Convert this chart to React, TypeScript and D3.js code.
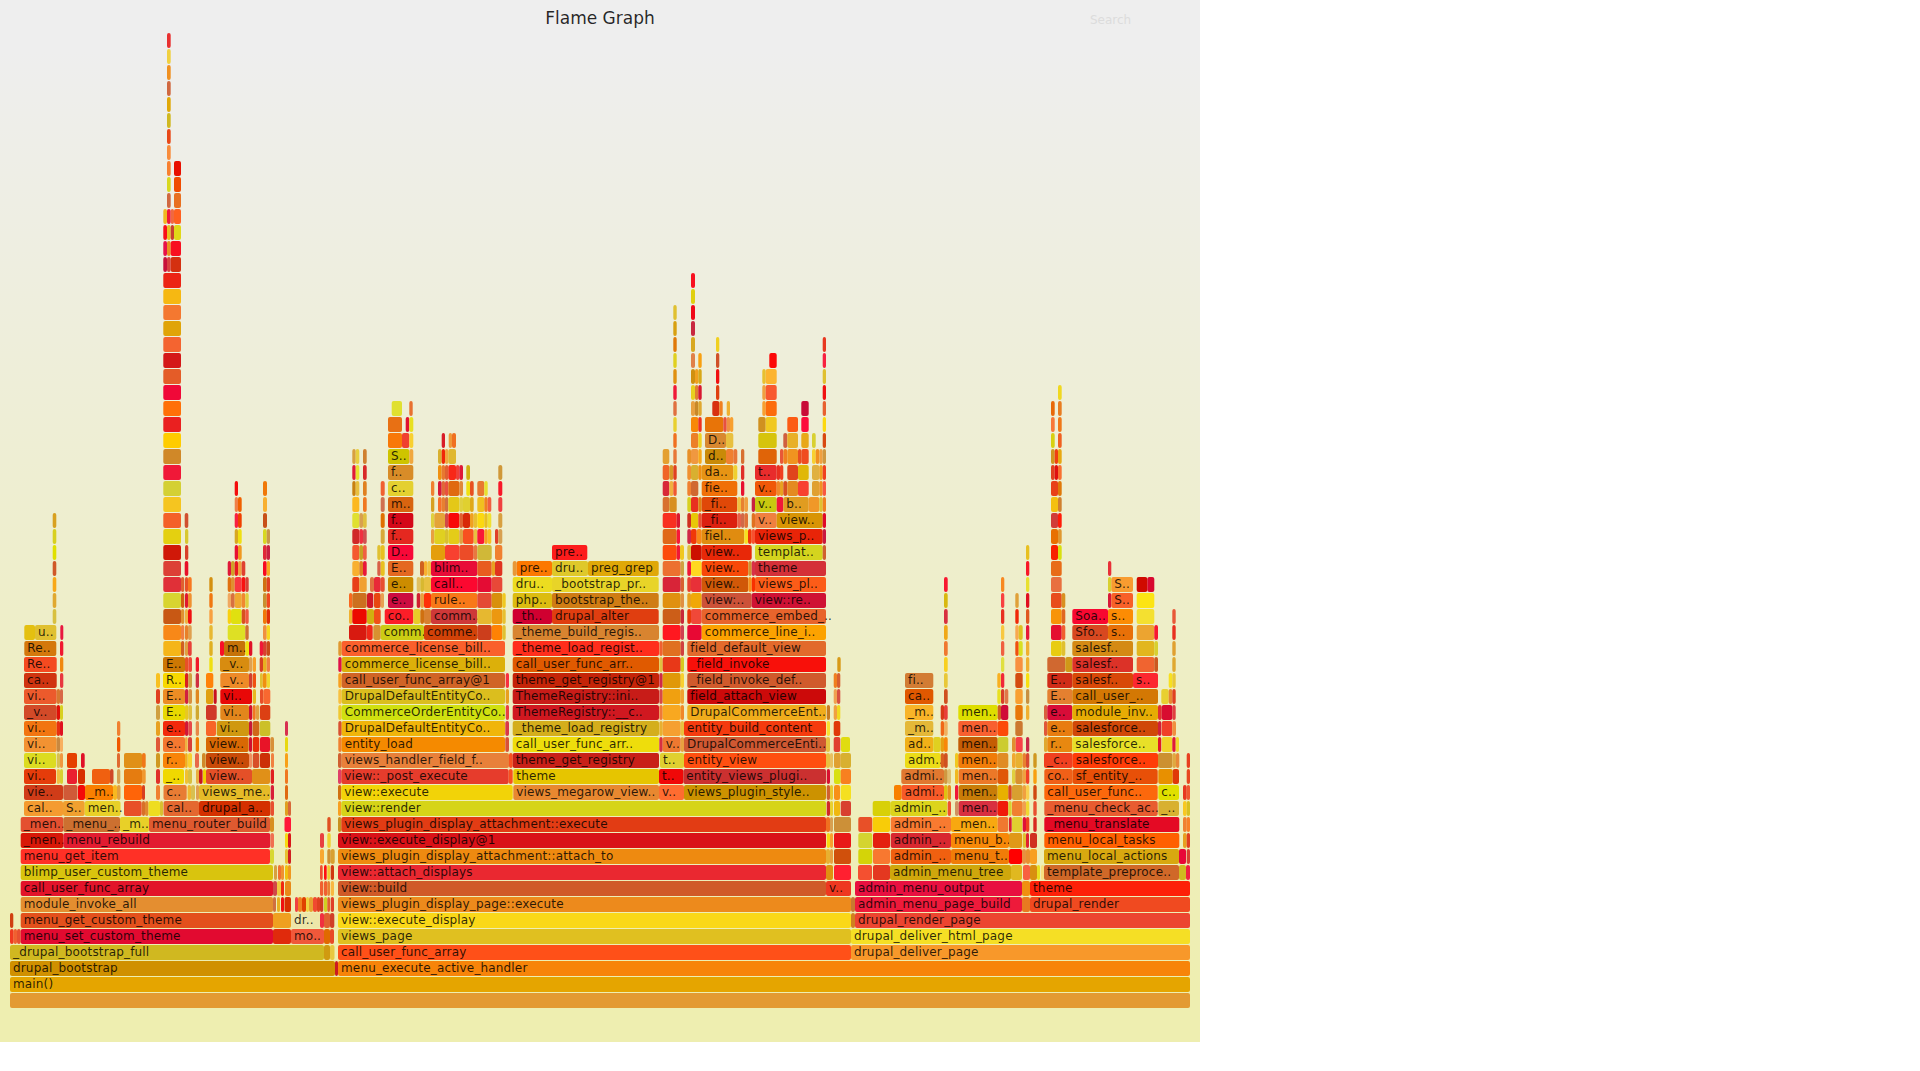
import * as d3 from "d3";
import React, { useEffect, useRef } from "react";

type Frame = [number, number, string?];

const chartTitle = "Flame Graph";
const searchLabel = "Search";
const totalSamples = 1180;

// one row per stack depth, [first sample, last sample, label]
const stackFrames: Frame[][] = [
  [[0,1180]],
  [[0,1180,"main()"]],
  [[0,325,"drupal_bootstrap"],[325,328],[328,1180,"menu_execute_active_handler"]],
  [[0,314,"_drupal_bootstrap_full"],[314,320],[320,324.5],[328,841,"call_user_func_array"],[841,1180,"drupal_deliver_page"]],
  [[0,3.7],[3.7,7],[7,10.7],[10.7,263,"menu_set_custom_theme"],[263,281],[281,314,"mo.."],[314,320],[320,324],[328,841,"views_page"],[841,1180,"drupal_deliver_html_page"]],
  [[0,3.3],[10.7,263,"menu_get_custom_theme"],[263,281],[281,310,"dr.."],[310,314],[314,320],[320,324.3],[328,841,"view::execute_display"],[841,845],[845,1180,"drupal_render_page"]],
  [[10.7,263,"module_invoke_all"],[263,266],[267,270],[271,274],[274.5,281],[285,288],[288,292],[292,296],[296,299],[299,303],[303,307],[307,310],[310,313.3],[314,317.3],[317.3,320],[320.7,324],[328,841,"views_plugin_display_page::execute"],[841,845],[845,1012,"admin_menu_page_build"],[1012,1020],[1020,1180,"drupal_render"]],
  [[10.7,263,"call_user_func_array"],[263,267],[267,271],[271,274],[275,281],[310,313.3],[314,317.3],[317.3,320],[320.7,324],[328,816,"view::build"],[816,841,"v.."],[845,1012,"admin_menu_output"],[1012,1020],[1020,1180,"theme"]],
  [[10.7,263,"blimp_user_custom_theme"],[264,267],[268,271],[271,274],[275,278],[278,281],[310,312.7],[314,316.7],[317.3,320],[320.7,324],[328,816,"view::attach_displays"],[816,823],[824,841],[848,862],[863,880],[880,1001,"admin_menu_tree"],[1001,1012],[1013,1020],[1020,1027],[1027,1030],[1031,1034],[1034,1169,"template_preproce.."],[1169,1176],[1176,1180]],
  [[10.7,260,"menu_get_item"],[260,264],[275,278],[278,281],[310,314],[317.3,320.7],[320.7,324.7],[328,816,"views_plugin_display_attachment::attach_to"],[816,820],[820,823],[824,841],[848.3,862.3],[863,880],[880.7,941,"admin_.."],[941,999,"menu_t.."],[999,1012],[1012,1016],[1016,1020],[1020,1027],[1034,1169,"menu_local_actions"],[1169,1176],[1176.7,1180]],
  [[10.7,53.3,"_men.."],[53.3,260.3,"menu_rebuild"],[260.5,264],[275,278],[278,281],[310,314],[317.3,320.7],[328,816,"view::execute_display@1"],[816.7,820],[820,823],[824,841],[848.3,862.3],[863,880],[880.7,941,"admin_.."],[941,999,"menu_b.."],[999,1012],[1012.7,1016],[1016,1019],[1020,1027],[1034.3,1169.3,"menu_local_tasks"],[1173,1176.7],[1176.7,1180]],
  [[10.7,53.3,"_men.."],[53.3,110,"_menu_.."],[110,139,"_m.."],[139,260,"menu_router_build"],[260,264],[274.5,281],[317.3,320.7],[328,331.3],[331.3,816,"views_plugin_display_attachment::execute"],[816,820],[820,823],[824,841],[848.3,862.3],[862.7,880],[880.7,941,"admin_.."],[941,987.7,"_men.."],[987.7,998.3],[999,1001.7],[1002,1012.3],[1012.7,1016],[1016,1019.3],[1023.3,1026.7],[1034.3,1169.3,"_menu_translate"],[1173,1176.7],[1176.7,1180]],
  [[14,53,"cal.."],[53,74.7,"S.."],[74.7,110.5,"men.."],[114,131.7],[132,135],[135,138.5],[138.5,150],[150,153],[153.5,189,"cal.."],[189,260.5,"drupal_a.."],[260.7,264],[275,278],[278,281],[328,331.3],[331.3,816,"view::render"],[816.7,820],[820,823],[824,830],[830.7,841],[862.7,880.7],[880.7,937.3,"admin_.."],[937.7,941],[945,948.7],[948.7,987.7,"men.."],[987.7,998.3],[998.3,1001.7],[1002,1012.7],[1012.7,1016],[1016,1019.3],[1023.3,1026.7],[1034.3,1147.7,"_menu_check_ac.."],[1148.3,1169,"_.."],[1173,1176.7],[1176.7,1180]],
  [[14,53,"vie.."],[53.3,67.5],[68,75],[75,103,"_m.."],[103,107],[107,110.5],[114,132],[132,135],[146,150],[153.5,176.7,"c.."],[177.5,181],[181,185],[186,189],[189,260,"views_me.."],[260.7,264],[275,278],[328,331.3],[331.3,502.7,"view::execute"],[503.3,649,"views_megarow_view.."],[649,674,"v.."],[674,816,"views_plugin_style.."],[816.7,820],[820,823],[824,830],[830.7,841],[884,891.7],[891.7,934,"admi.."],[934,937.7],[937.7,941],[945,948.3],[948.7,987.7,"men.."],[987.7,998.3],[998.3,1001.7],[1002,1012.7],[1012.7,1016],[1016,1019.3],[1023.3,1026.7],[1034.3,1147.7,"call_user_func.."],[1148.3,1169,"c.."],[1173,1176.7],[1176.7,1180]],
  [[14,46,"vi.."],[46.7,50],[50,53],[57,67],[68,75],[82,100],[100,103.5],[107,110.3],[114,132],[132,135.7],[146,150],[153,174,"_.."],[175,178],[178,182],[186,189],[189,192.6],[193,196],[196,242,"view.."],[242,260],[260.7,264],[275,278],[328,331.3],[331.3,498.7,"view::_post_execute"],[498.7,502.7],[503.3,649,"theme"],[649,673.3,"t.."],[673.3,816,"entity_views_plugi.."],[816.7,820],[824,830.7],[830.7,841],[891.3,934,"admi.."],[934,937.7],[937.7,941],[945,948.3],[948.7,987.7,"men.."],[987.7,998.3],[1002,1005.3],[1005.3,1012.7],[1012.7,1016],[1016,1019.3],[1023.3,1026.7],[1034.3,1062.7,"co.."],[1062.7,1147.7,"sf_entity_.."],[1148.3,1162.7],[1162.7,1169],[1176.7,1180]],
  [[14,46,"vi.."],[46.7,50],[50,53],[57,67],[71,74.7],[107,110],[114,132],[132,135.7],[146,150],[153,175,"r.."],[175,177.7],[178,182],[185,189],[192,195.7],[196,239,"view.."],[239,242],[242.7,249.3],[250,260],[261,264],[275,278],[328,331.7],[331.7,499,"views_handler_field_f.."],[499,502.7],[502.7,649,"theme_get_registry"],[650,674,"t.."],[674,816,"entity_view"],[816,820],[820,823],[824,830.7],[830.7,841],[895,930.7,"adm.."],[930.7,934],[934,937.7],[945,948.3],[948.3,987.7,"men.."],[987.7,998.3],[1002,1005.7],[1005.7,1012.7],[1012.7,1016],[1016,1019.3],[1023.3,1026.7],[1034,1062.7,"_c.."],[1062.7,1148,"salesforce.."],[1148,1162.3],[1162.3,1166],[1166,1169.3],[1176.7,1180]],
  [[14,46.7,"vi.."],[46.7,50],[50,53],[107,110.3],[146,150],[153,175,"e.."],[175,177.7],[178,182],[185.7,189],[196,238.7,"view.."],[239,242],[242.7,249.3],[250,260],[260.3,264],[275,278],[328.3,331.7],[331.7,495,"entity_load"],[495.3,499],[502.7,649,"call_user_func_arr.."],[649.3,652.7],[652.7,670.7,"v.."],[670.7,674],[674,816,"DrupalCommerceEnti.."],[816,820],[823.7,830.3],[831,840],[895,923.3,"ad.."],[923.3,930.7],[930.7,934],[934,937.7],[948.3,987.7,"men.."],[987.7,998.3],[1002,1005.7],[1005.7,1012.7],[1016,1019.3],[1034,1037.3],[1037.3,1062.3,"r.."],[1062.3,1148,"salesforce.."],[1148,1151.3],[1151.7,1162.3],[1162.3,1165.7],[1165.7,1169]],
  [[14,46.7,"vi.."],[46.7,50],[50,53],[107,110.3],[146,150],[153,175,"e.."],[175,178.3],[178.3,182],[185.7,189],[196,206],[206.7,239,"vi.."],[239,242.3],[242.7,249.3],[249.7,260.3],[275,278],[328.3,331.7],[331.7,495,"DrupalDefaultEntityCo.."],[495.3,499],[502.7,649,"_theme_load_registry"],[649.3,652.7],[652.7,670.7],[670.7,674],[674,816,"entity_build_content"],[816.7,820],[823.7,830.3],[895,923.3,"_m.."],[930.7,934],[934,937.7],[948.3,987.7,"men.."],[987.7,998.3],[1005.3,1012.7],[1034,1037.3],[1037.3,1062.7,"e.."],[1062.7,1148,"salesforce.."],[1148,1151.3],[1151.7,1162.3],[1162.3,1166]],
  [[14,46.7,"_v.."],[46.7,50],[50,53],[146,150],[153,175,"E.."],[175,178.3],[178.3,182],[185.7,189],[196,206.7],[210.3,239,"vi.."],[239,242.3],[242.7,245.7],[246,249.3],[250,260.3],[328.3,331.7],[331.7,495,"CommerceOrderEntityCo.."],[495.7,499],[502.7,649,"ThemeRegistry::__c.."],[649.3,652.7],[652.7,670.7],[670.7,674],[677.3,816,"DrupalCommerceEnt.."],[816.7,820],[823.7,827],[827,830.3],[895,923.3,"_m.."],[930.7,934],[934,937.7],[948.3,987.7,"men.."],[987.7,991],[991,998.3],[1005.3,1012.7],[1016,1019.3],[1034,1037.3],[1037.3,1062.3,"e.."],[1062.3,1148,"module_inv.."],[1148,1151.7],[1151.7,1162.3],[1162.3,1165.7]],
  [[14,46.7,"vi.."],[46.7,50],[50,53],[146,150],[153,175,"E.."],[175,178.3],[178.3,182],[185.7,189],[196,203.3],[203.7,206.7],[210.3,242,"vi.."],[242.7,246],[250,253.3],[253.3,260.3],[328.3,331.7],[331.7,495,"DrupalDefaultEntityCo.."],[495.7,499],[502.7,649,"ThemeRegistry::ini.."],[649.3,652.7],[652.7,670.7],[670.7,674],[677.3,816,"field_attach_view"],[823.7,827],[827,830.3],[895,923.3,"ca.."],[934,937.7],[987.3,990.7],[991,994.3],[994.7,998.3],[1005.3,1012.7],[1016,1019.3],[1037.3,1062.3,"E.."],[1062.3,1148,"call_user_.."],[1151.3,1158.7],[1158.7,1162.3],[1162.3,1165.7]],
  [[14,46.7,"ca.."],[50,53.3],[146,150],[153,175,"R.."],[175,178.3],[178.3,182],[185.7,189],[196,203.3],[210.3,239,"_v.."],[239,242.3],[242.7,246],[250,252.7],[252.7,256.7],[256.7,260],[328.3,331.7],[331.7,495,"call_user_func_array@1"],[495.7,499],[502.7,649,"theme_get_registry@1"],[649.3,652.7],[652.7,670.7],[670.7,674],[677.3,816,"_field_invoke_def.."],[823.7,827],[827,830.3],[895,923.3,"fi.."],[934,937.7],[987.3,990.7],[991,994.3],[1005.3,1012.7],[1016,1019.3],[1037.3,1062.3,"E.."],[1062.3,1123,"salesf.."],[1123,1148,"s.."],[1158.7,1162.3],[1162.3,1165.7]],
  [[14,46.7,"Re.."],[50,53.3],[153,175,"E.."],[175,178.3],[178.3,182],[185.7,189],[199.3,202.7],[210,239,"_v.."],[239,242.3],[242.7,246],[249.7,253],[253,256.7],[256.7,260],[328.3,331.7],[331.7,495,"commerce_license_bill.."],[502.7,649,"call_user_func_arr.."],[649.3,652.7],[652.7,670.7],[670.7,674],[677.3,816,"_field_invoke"],[827.3,830.7],[934,937.7],[991,994.3],[1005.3,1012.7],[1016,1019.3],[1037.3,1055.3],[1055.3,1062.3],[1062.3,1123,"salesf.."],[1126.7,1144.3],[1144.3,1148],[1162.3,1165.7]],
  [[14.3,46.3,"Re.."],[50,53.3],[153.3,171],[171,174.3],[175,178],[178,181.7],[199.3,202.7],[210,214],[214,235.3,"m.."],[235.3,239],[239,242.3],[249.7,253],[253,256.7],[256.7,260],[328.3,331.7],[331.7,495,"commerce_license_bill.."],[502.7,649,"_theme_load_regist.."],[649.3,652.7],[652.7,670.7],[670.7,674],[677.3,816,"field_default_view"],[934,937.7],[991,994.3],[1005.3,1008.7],[1008.7,1012.7],[1016,1019.3],[1041,1051.7],[1051.7,1055.3],[1062.3,1123,"salesf.."],[1126.7,1144.3],[1144.3,1148],[1162.3,1165.7]],
  [[14.3,25],[25,46.3,"u.."],[50.3,53.3],[153.3,171],[171,174.3],[175,178],[178,181.7],[199.3,202.7],[217.7,235.3],[235.3,238.7],[253,256.7],[256.7,260],[339,356.7],[357,362.7],[363.3,370.7],[370.7,414,"comm.."],[414,467.3,"comme.."],[467.3,481.7],[481.7,492.3],[492.3,495.7],[502.7,649,"_theme_build_regis.."],[652.7,670.7],[670.7,674],[677.3,691.7],[691.7,816,"commerce_line_i.."],[934,937.7],[991,994.3],[1005.3,1008.7],[1008.7,1012.7],[1016,1019.3],[1041,1051.7],[1051.7,1055.3],[1062.3,1098,"Sfo.."],[1098,1123,"s.."],[1126.7,1144.3],[1144.3,1148],[1162.3,1165.7]],
  [[42.7,46.3],[153.3,171],[171,174.3],[175,178],[178,181.7],[199.3,202.7],[217.7,221],[221,231.7],[231.7,235.3],[235.3,238.7],[253,256.7],[256.7,260],[339,342.3],[342.3,356.7],[357,364],[364,370.7],[374.7,403.3,"co.."],[403.3,410.3],[410.3,414],[414,421],[421,467.3,"comm.."],[467.3,481.7],[481.7,492.3],[492.3,495.7],[502.7,542,"_th.."],[542,648.7,"drupal_alter"],[652.7,670.7],[670.7,674],[677.3,681],[681,691.7],[691.7,816,"commerce_embed_.."],[934,937.7],[991,994.3],[1005.3,1008.7],[1016,1019.3],[1041,1051.7],[1051.7,1055.3],[1062.3,1098,"Soa.."],[1098,1123,"s.."],[1126.7,1144.3],[1162.3,1165.7]],
  [[42.7,46.3],[153.3,171],[171,174.3],[175,178],[178,181.7],[199.3,202.7],[217.7,221],[221,224.7],[224.7,231.7],[231.7,235.3],[235.3,238.7],[253,256.7],[256.7,260],[339,342.3],[342.3,356.7],[357,363.3],[364,370.7],[370.7,374],[378,403.3,"e.."],[406.7,410.3],[410.3,414],[414,421],[421,467.3,"rule.."],[467.3,481.7],[481.7,492.3],[492.3,495.7],[502.7,542,"php.."],[542,648.7,"bootstrap_the.."],[652.7,670.7],[670.7,674],[677.3,681],[681,691.7],[691.7,741.7,"view:.."],[741.7,816,"view::re.."],[934,937.7],[991,994.3],[1005.3,1008.7],[1016,1019.3],[1041,1051.7],[1051.7,1055.3],[1098,1101.3],[1101.3,1123,"S.."],[1126.7,1144.3]],
  [[42.7,46.3],[153.3,171],[171,174.3],[175,178],[178,181.7],[199.3,202.7],[217.7,221],[221,224.7],[224.7,231.7],[231.7,235.3],[235.3,238.7],[253,256.7],[256.7,260],[342.3,349.3],[349.3,356.7],[360,364],[364,370.7],[370.7,374.7],[378,403.3,"e.."],[406.7,410.3],[410.3,414],[414,421],[421,467.3,"call.."],[467.3,481.7],[481.7,492.3],[502.7,542,"dru.."],[542,648.7,"_bootstrap_pr.."],[652.7,670.7],[670.7,674],[677.3,681],[681,691.7],[691.7,738.3,"view.."],[738.3,741.7],[741.7,745],[745,816,"views_pl.."],[934,937.7],[991,994.3],[1016,1019.3],[1041,1051.7],[1098,1101.3],[1101.3,1123,"S.."],[1126.7,1137.3],[1137.3,1144.3]],
  [[42.7,46.3],[153.3,171],[174.7,178.3],[217.7,221],[221,224.7],[224.7,228],[228,231.7],[231.7,235.3],[253,256.7],[256.7,260],[342.3,349.3],[349.3,353],[353,356.7],[367.3,370.7],[370.7,374.7],[378,403.3,"E.."],[410,414],[414,417.3],[417.3,421],[421,467.3,"blim.."],[467.3,481.7],[481.7,485],[485,492.3],[502.7,506.7],[506.7,542,"pre.."],[542,578,"dru.."],[578,648.7,"preg_grep"],[652.7,670.7],[670.7,674],[677.3,681],[681,691.7],[691.7,738.3,"view.."],[738.3,741.7],[741.7,745],[745,816,"theme"],[1016,1019.3],[1041,1051.7],[1098,1101.3]],
  [[42.7,46.3],[153.3,171],[175,178.3],[224.7,228],[228,231.7],[253,256.7],[256.7,260],[342.3,349.3],[349.3,353],[353,356.7],[367.3,370.7],[370.7,374.7],[378,403.3,"D.."],[421,435],[435,449.3],[449.3,463.7],[463.7,467.3],[467.3,481.7],[485,492.3],[542,577.3,"pre.."],[652.7,666.7],[666.7,670],[670,674],[677.3,681],[681,691.7],[691.7,741.7,"view.."],[745,812.7,"templat.."],[812.7,816],[1016,1019.3],[1041,1048],[1048,1051.7]],
  [[42.7,46.3],[153.3,171],[175,178.3],[224.7,228],[228,231.7],[253,256.7],[256.7,260],[342.3,349.3],[349.3,353],[353,356.7],[370.7,374.7],[378,403.3,"f.."],[421,424.3],[424.3,435],[435,438.3],[438.3,449.3],[449.3,453],[453,463.7],[463.7,467.3],[467.3,474.3],[474.3,477.7],[477.7,481.3],[485,488.3],[488.3,492.3],[652.7,666.7],[666.7,670],[677.3,681],[681,686.7],[686.7,691.7],[691.7,734.3,"fiel.."],[734.3,738],[738,741.7],[741.7,745],[745,812.7,"views_p.."],[812.7,816],[1041,1048],[1048,1051.7]],
  [[42.7,46.3],[153.3,171],[174.7,178.3],[224.7,228],[228,231.7],[253,257],[342.3,349.3],[349.3,353],[353,356.7],[370.7,374.7],[378,403.3,"f.."],[421,424.3],[424.3,435],[435,438.3],[438.3,449.3],[449.3,453],[453,460],[460,463.7],[463.7,467.3],[467.3,474.3],[474.3,477.7],[477.7,481.3],[488.3,492.3],[652.7,666.7],[666.7,670],[677.3,681],[681,688.3],[688.3,691.7],[691.7,727.3,"_fi.."],[727.3,731],[731,734.3],[734.3,738],[741.7,745],[745,766.7,"v.."],[766.7,812.7,"view.."],[812.7,816],[1041,1048],[1048,1051.7]],
  [[153.3,171],[224.7,228],[228,231.7],[253,257],[342.3,349.3],[353,356.7],[370.7,374.7],[378,403.3,"m.."],[421,424.3],[428,431.7],[431.7,435],[435,438.3],[438.3,449.3],[449.3,453],[453,460],[460,463.7],[467.3,474.3],[474.3,477.7],[477.7,481.3],[488.3,492.3],[652.7,659.3],[659.3,666.7],[677.3,681],[681,688.3],[688.3,691.7],[691.7,727.3,"_fi.."],[727.3,731],[731,734.3],[734.3,738],[741.7,745],[745,766.7,"v.."],[766.7,773.3],[773.3,798.7,"b.."],[798.7,809.3],[809.3,812.7],[812.7,816],[1041,1048],[1048,1051.7]],
  [[153.3,171],[224.7,228],[253,257],[342.3,345.7],[345.7,349.3],[353,356.7],[370.7,374.7],[378,403.3,"c.."],[421,424.3],[428,431.7],[431.7,435],[435,438.3],[438.3,449.3],[449.3,453],[456.3,460],[460,463.7],[467.3,474.3],[474.3,477.7],[488.3,492.3],[652.7,659.3],[659.3,663.3],[663.3,666.7],[677.3,681],[681,688.3],[691.7,727.3,"fie.."],[731,734.3],[745,766.7,"v.."],[766.7,770],[770,773.3],[773.3,777.3],[777.3,788],[788,798.7],[802,809.3],[809.3,812.7],[812.7,816],[1041,1048],[1048,1051.7]],
  [[153.3,171],[342.3,345.7],[345.7,349.3],[353,356.7],[378,403.3,"f.."],[428,431.7],[431.7,435],[435,438.3],[438.3,446],[446,449.3],[449.3,453],[456.3,460],[488.3,492.3],[652.7,659.3],[659.3,663.3],[663.3,666.7],[677.3,681],[681,688.3],[688.3,691.7],[691.7,723.3,"da.."],[723.3,727.3],[731,734.3],[745,766.7,"t.."],[766.7,770],[770,773.3],[777.3,788],[788,798.7],[802,809.3],[809.3,812.7],[812.7,816],[1041,1044.7],[1044.7,1048],[1048,1051.7]],
  [[153.3,171],[342.3,345.7],[345.7,349.3],[353,356.7],[378,399.3,"S.."],[399.3,403.3],[428,431.7],[431.7,435],[435,438.3],[438.3,446],[652.7,659.3],[663.3,666.7],[677.3,681],[681,688.3],[688.3,691.7],[695,716,"d.."],[716,723.3],[723.3,727.3],[731,734.3],[748.3,766.7],[770,773.3],[773.3,777.3],[777.3,788],[788,791.3],[791.3,798.7],[802,805.7],[805.7,809.3],[809.3,812.7],[812.7,816],[1041,1044.7],[1044.7,1048],[1048,1051.7]],
  [[153.3,171],[378,392],[392,399.3],[399.3,403.3],[431.7,435],[438.7,442],[442,446],[663.3,666.7],[681,688.3],[688.3,691.7],[695,716,"D.."],[716,723.3],[748.3,766.7],[773.3,777.3],[777.3,788],[791.3,798.7],[802,805.7],[812.7,816],[1041,1044.7],[1048,1051.7]],
  [[153.3,171],[378,392],[395.7,399.3],[399.3,403.3],[663.3,666.7],[681,688.3],[688.3,691.7],[695,713.3],[713.3,716.7],[716.7,720],[720,723.3],[748.3,755.7],[755.7,766.7],[777.3,788],[791.3,798.7],[812.7,816],[1041,1044.7],[1048,1051.7]],
  [[153.3,171],[381.7,392],[399.3,402.7],[663.3,666.7],[681,685],[685,688.3],[688.3,691.7],[702.3,709.3],[709.3,712.7],[716.7,720],[752.3,755.7],[755.7,766.7],[791.3,798.7],[812.7,816],[1041,1044.7],[1048,1051.7]],
  [[153.3,171],[663.3,666.7],[681,685],[685,688.3],[688.3,691.7],[706,709.3],[752.3,755.7],[755.7,766.7],[812.7,816],[1048,1051.7]],
  [[153.3,171],[663.3,666.7],[681,685],[685,688.3],[688.3,691.7],[706,709.3],[752.3,755.7],[755.7,766.7],[812.7,816]],
  [[153.3,171],[663.3,666.7],[681,685],[688.3,691.7],[706,709.3],[759.3,766.7],[812.7,816]],
  [[153.3,171],[663.3,666.7],[681,685],[706,709.3],[812.7,816]],
  [[153.3,171],[663.3,666.7],[681,685]],
  [[153.3,171],[663.3,666.7],[681,685]],
  [[153.3,171],[681,685]],
  [[153.3,171],[681,685]],
  [[153.3,157],[157,160.7],[160.7,171]],
  [[153.3,157],[157,160.7],[160.7,171]],
  [[153.3,157],[157,160.7],[160.7,164],[164,171]],
  [[153.3,157],[157,160.7],[160.7,164],[164,171]],
  [[157,160.7],[164,171]],
  [[157,160.7],[164,171]],
  [[157,160.7],[164,171]],
  [[157,160.7]],
  [[157,160.7]],
  [[157,160.7]],
  [[157,160.7]],
  [[157,160.7]],
  [[157,160.7]],
  [[157,160.7]],
  [[157,160.7]],
];

// same shape as stackFrames
const stackFills: string[][] = [
  ["#e39a32"],
  ["#e5a500"],
  ["#d09000","#cc1a22","#f78409"],
  ["#d0b820","#d09a10","#e8c840","#ff5018","#f8982a"],
  ["#f03a20","#f06030","#e85030","#e20a30","#e02a0c","#f0583a","#e06a00","#e84a28","#e0c020","#f5df25"],
  ["#d04010","#e3501c","#efa020","#ede6a8","#f03040","#e06030","#d04028","#fad818","#d08020","#ec4530"],
  ["#e48e30","#d07040","#e8b020","#f01010","#d83000","#f04040","#f08020","#e04000","#f0d040","#e8a030","#f04a30","#e04020","#d03a20","#d0d020","#e06030","#e04028","#ed8a1c","#c87830","#ee1a3a","#e87a20","#f04a20"],
  ["#e2142a","#d04848","#f0c840","#f02810","#e88a18","#f06030","#f06030","#e88030","#f8b840","#d05a28","#ee3820","#e81040","#f09010","#fd2008"],
  ["#d9c40e","#d8a040","#f07030","#f09030","#f0c010","#f09820","#f05030","#ff1010","#f0c830","#d03810","#ea2830","#e09010","#ff2030","#f45030","#e43820","#cfa70c","#e0b820","#f86040","#d89010","#e8e020","#f8e080","#d06828","#d0b820","#f02040"],
  ["#ff3026","#d8d830","#e8c030","#d02020","#f8a830","#d09030","#d8a030","#ee8a10","#e8b030","#e8a040","#d0500c","#d4d408","#f87830","#f06010","#f07c08","#ff0000","#e89040","#e89030","#f8a020","#d8a810","#e80838","#d84030"],
  ["#d81808","#e21c30","#f07050","#f8d810","#d81818","#e84040","#f0d030","#d91218","#f8d810","#f8a030","#e81818","#d4d430","#e42010","#d82830","#f88808","#e09818","#e0c030","#e02030","#d03020","#ff6000","#e8a020","#e04020"],
  ["#e45030","#cc7030","#e8d028","#df5a30","#d89020","#ff1838","#e05020","#c89020","#e23c14","#f07020","#d8a050","#cc9038","#e85028","#f8cc08","#f87a30","#f8a810","#f07830","#d82030","#e0d030","#e01038","#f04020","#d82820","#e40a24","#f08030","#f88028"],
  ["#f49b30","#f0a030","#e8d028","#e85028","#d87028","#e08830","#eedd20","#d8c030","#e46830","#d43000","#e85030","#e0a020","#d86838","#f8a020","#d6d418","#d02828","#e8d030","#f0b810","#d84030","#d8d008","#dcd41c","#f05030","#d09060","#d83040","#f01a0a","#d8d030","#f08030","#f0a050","#f0d830","#e85030","#e85c30","#d8b030","#f8c820","#d8c020"],
  ["#d03c18","#d05a38","#f40808","#fa8000","#f8b820","#e0a040","#ff6408","#d84020","#f08030","#e87c34","#f0b830","#d8c050","#e0a050","#e5bb28","#d82038","#e06a10","#d07010","#f2d308","#e88830","#ff6c30","#cc9200","#d06030","#e8c830","#f89018","#f5e020","#f88000","#f85a28","#e0c010","#e89020","#f01838","#c87c08","#e8b000","#d84820","#d8a030","#f0a040","#f8d050","#d04810","#fc680c","#e0e000","#e83820","#f05830"],
  ["#e53c0a","#f0c040","#d8d030","#ea2030","#d83000","#f06010","#d04828","#d8a050","#e57c10","#f09830","#e03028","#f0d800","#f0c030","#d8c040","#e8b040","#c81820","#f0d000","#e45028","#e09018","#e02020","#f07820","#e04068","#e63c2c","#f85020","#e6c500","#f00808","#cb3030","#d81030","#d8e010","#f88020","#e07830","#d09840","#e0c070","#f0b820","#ec7828","#e05808","#e0d040","#d89030","#f0a040","#f04028","#f8a010","#f06018","#e85008","#e89000","#e03808","#e84820"],
  ["#dcdc20","#d8c050","#f09840","#e54000","#e01028","#e06a30","#e09018","#f07818","#d09820","#f8840a","#f0b020","#f8d030","#e86848","#d08828","#c84a08","#f09060","#d85028","#cc3008","#f08040","#f8a018","#d06030","#e8803a","#f85020","#c82018","#e0d030","#ff4f10","#e8c040","#e8c060","#e0a030","#d8b030","#ecdc18","#d86020","#d05020","#f0c820","#f07c08","#e08c24","#f0a830","#e8b030","#e88030","#d84830","#d09820","#f04020","#ff3c08","#cc9030","#e0a840","#e88838","#e84020"],
  ["#f29232","#c88840","#f8b060","#f05800","#e05838","#f47830","#f0b040","#d84038","#f08000","#d86804","#d01030","#e83008","#e81428","#d89038","#e8d810","#f08030","#f58a00","#d85038","#eedd0c","#d83040","#ee7830","#e8a040","#cf5832","#e8c040","#e04030","#e0dc10","#f0b018","#e0d020","#e8a010","#f88808","#c45c04","#cccc30","#e09030","#f84048","#c82848","#e0a830","#e88810","#e8e028","#e01828","#f0d428","#e01838","#f0d830"],
  ["#f27510","#e83010","#e01020","#f08030","#e8a020","#f22a0c","#d01838","#e84848","#e88848","#f86428","#d09810","#c81838","#d06818","#ccc028","#d83050","#d85030","#f0b50a","#d83848","#d4ae1c","#e8b030","#f5a030","#e8c040","#f53b0e","#f8e030","#e03808","#e4b838","#f06818","#f0b060","#f86030","#fc4a08","#cc7830","#e05838","#e87c10","#d04808","#d02038","#f04028","#f09040"],
  ["#d24a28","#e01008","#d8d020","#d0a040","#e8d800","#e8c820","#e0c040","#d0a830","#d03828","#e2861c","#d01030","#f07820","#e0a040","#dc4014","#f0c830","#d0e010","#e84040","#d01820","#f07838","#f8a820","#f08828","#f0ac1c","#c87c20","#f0a040","#f0d820","#f8b428","#d83818","#e84038","#dede00","#d06020","#d00c38","#e87808","#f0b030","#d86040","#d80c38","#e6ac04","#e03030","#d80c30","#e04040"],
  ["#ec5a2c","#d87830","#d86848","#e04020","#ec8c24","#d02040","#d89040","#e08820","#e0a010","#c81020","#e80808","#e8b820","#e85028","#f86830","#f8c040","#dbbe1e","#e8a020","#c81c18","#d84848","#f0a010","#f0a030","#cc0a0a","#f0a050","#d85040","#e05800","#d05020","#e8e020","#d84028","#e07848","#f8a030","#c89040","#e48030","#d47804","#e8d030","#e88830","#e04020"],
  ["#d03410","#e83840","#f8c020","#f8d800","#d82020","#d0a040","#d03040","#ff8208","#ee8a28","#d04030","#f05010","#e0c030","#f09010","#f0d830","#f8a020","#d06426","#f83040","#c42408","#d02848","#e09808","#f8d030","#d05a2c","#f08020","#d86030","#d27c34","#e8c838","#f8b020","#f02838","#d44c10","#f8e010","#d02c18","#d84808","#fc2830","#f8e020","#e8c838"],
  ["#f44a20","#f08810","#cc7704","#e85028","#f04838","#f01828","#f0e010","#d88c10","#e0a050","#f8a028","#d84020","#e8b020","#f08040","#e01048","#dcb00a","#e05a00","#e0c040","#e83818","#d8c820","#f8100a","#d89a18","#f8d020","#e0e040","#f89040","#f0b030","#d06830","#d09818","#dc3228","#f06430","#cc5820","#e0a830"],
  ["#d4780c","#f01830","#f5b518","#d06020","#e0a040","#e84038","#e0b020","#f81028","#c67208","#f0e010","#e01028","#f01838","#d84030","#c84a18","#e09830","#fa602c","#ff2e1c","#f06030","#e07020","#d04040","#e26a2c","#f07830","#f06040","#f05010","#d8e020","#f0b030","#e8cc10","#e0c030","#d48a14","#e2b61e","#d8d030","#e0a030"],
  ["#e4c010","#e0c030","#e81840","#f88818","#f08040","#e88028","#e0a050","#e8b830","#dee024","#d07030","#f09040","#f8d820","#d81a10","#f02818","#d89030","#cccc14","#d24208","#cc3e1c","#ff8204","#e0c030","#d88430","#ff1820","#d04050","#e80834","#fca200","#f0a818","#f8c840","#f8a850","#e0c020","#e81838","#e41030","#f06030","#d84820","#e87008","#eca430","#f81830","#e83020"],
  ["#d8c040","#c85814","#e09030","#f0b040","#f01010","#f8a040","#f8d010","#e0e010","#d85020","#f05840","#f07808","#e03008","#f0b030","#ec0a00","#d0b010","#f05018","#fc1e28","#e8cc28","#d07010","#d88030","#ce3838","#e6b830","#ec9810","#e8c030","#d00030","#e03e10","#cc5e18","#c82838","#e83808","#f04838","#e8642c","#d83040","#e83020","#f02808","#e05820","#f89408","#e06820","#f80830","#fc8c04","#f4e030","#e85838"],
  ["#e0a830","#d8d430","#d06010","#e01830","#f09030","#f07810","#f0a860","#d87040","#f0a830","#f08830","#e0d040","#c89030","#f04820","#f86820","#cc7020","#d01828","#e84810","#e8a050","#cc0c40","#d02030","#e8a040","#ff3008","#f87818","#e44a34","#d8900c","#f0c820","#dcbc10","#cf7c14","#e09010","#e09040","#e8a020","#f0a808","#cc5238","#cf1234","#d8b810","#f84040","#e0a038","#e01020","#e84c1c","#d89020","#d81838","#f86028","#fce414"],
  ["#f8a818","#e03038","#e06030","#e85028","#f87820","#d49010","#e07010","#e09030","#f83840","#f81010","#d84038","#d07010","#e04020","#e84018","#f0a030","#e07040","#e82838","#e85030","#cc8c00","#e0c060","#d8b830","#e8c040","#fc0830","#e40c34","#e84838","#ecdc20","#e8d428","#d82438","#d86030","#e84030","#e83038","#d05808","#f89018","#f83000","#fc5c18","#f81830","#f88820","#e8e030","#e87040","#d8d030","#f89c30","#d00a00","#d80830"],
  ["#d05828","#dc4036","#e81028","#e01838","#d0a028","#e81820","#f0a040","#e04030","#f80820","#f8a820","#f8b030","#e08020","#e81838","#d86048","#e8c020","#e46820","#d06020","#f8b030","#f0c040","#e80c38","#e85c20","#e8a020","#e03420","#e89838","#fc7800","#dfc82a","#e0a808","#ec7030","#d0a040","#f01838","#ffd820","#f84808","#d09030","#d83048","#d43038","#f81828","#e86c18","#e83038"],
  ["#e0e000","#d01808","#d84028","#e81030","#f09820","#e02838","#c82040","#f45830","#c8a020","#f06040","#e0c030","#e8c020","#f80838","#e49e0c","#f84030","#ec4c28","#e87840","#d0b838","#f08030","#fc1c1c","#fc4c0c","#f01838","#f0c820","#e0c040","#cc1000","#e82808","#d4d41e","#d06030","#e8c020","#f82000","#d8e010"],
  ["#d8d020","#e4d010","#d8c830","#d8a820","#f0e010","#d8d820","#c8984a","#d02828","#f03040","#d05050","#d8a838","#e42820","#e8a040","#e0d020","#d8c030","#e4cc18","#e0a040","#f85020","#e8c040","#f81838","#f8a020","#f8c020","#e04028","#d8a050","#e06818","#f81838","#d02848","#f03808","#f88818","#e08c10","#f8e020","#f03808","#f85030","#e82408","#c81840","#e87000","#e09830"],
  ["#d8a020","#f46028","#d05030","#f82040","#f04000","#c85018","#e0e030","#d8a050","#e0c040","#e07000","#d40818","#e0d040","#e4a438","#d04848","#f80808","#e06030","#d82808","#f0a020","#e8c030","#fcd810","#e8c020","#f0e030","#d8a040","#f83020","#d81830","#d03020","#e8c808","#e85030","#dc2010","#e86048","#d06848","#e07038","#e07020","#f08040","#d89404","#e00828","#d03c38","#ff1c08"],
  ["#f5c520","#f08048","#f06000","#f8b030","#fcb820","#f07820","#d07050","#d86410","#d8a020","#f87028","#e88030","#d07040","#e4c818","#e0d040","#e0d030","#e0a818","#f0c020","#f08020","#f06040","#f04040","#d87030","#d89020","#d8d020","#e83020","#e08010","#e04808","#f0c040","#e88030","#f0a040","#c82040","#c8c810","#f01838","#e09c20","#f09828","#e0c030","#f08020","#f4c010","#d08030"],
  ["#d4d034","#f40c0c","#f07808","#c88010","#e8c040","#e08020","#f06030","#e4d030","#f08030","#d81838","#e06838","#e85040","#e06a10","#e08838","#f0e010","#e85020","#e87830","#e8e030","#f81828","#d82838","#f0b040","#f05830","#f08030","#d06830","#f07008","#e81030","#f05808","#f08828","#e8a020","#d85020","#e48a20","#f84030","#e0a030","#f09020","#f85840","#e84018","#e07808"],
  ["#f01838","#e01838","#e8e030","#d82828","#d88c28","#f09010","#e87830","#e06030","#f82818","#f04038","#e01838","#d0b010","#d09838","#f06428","#d89828","#e04020","#f09030","#d8b030","#f09010","#e69414","#f0d030","#e03028","#e82c2c","#e83020","#f04020","#e0441c","#e0b808","#e0b040","#f0a020","#f04020","#e04020","#e01010","#f87030"],
  ["#d08828","#d8a040","#e8d040","#d08030","#cec400","#f0a840","#d8b030","#f02808","#f0a840","#e0b830","#e4a030","#e87838","#e89028","#f09840","#f8a818","#c98a08","#f08030","#e87838","#d87030","#e06408","#e85838","#f08020","#f09420","#e85020","#f04c20","#f8d030","#f09020","#f0a040","#d09840","#d09820","#f04010","#e8a810"],
  ["#ffcc00","#f87808","#f04030","#f8d030","#d81c28","#f09838","#f07020","#f07020","#ec8028","#f0d020","#d88830","#e8c040","#d6c40c","#d06040","#e8b028","#e8a818","#d8d030","#d84810","#d8d010","#f06020"],
  ["#ea2020","#e87014","#e01030","#e8e020","#e8d030","#f88808","#f03020","#e87408","#e85040","#f09040","#f8a030","#d09020","#f0c820","#fc5c14","#fc0c3c","#fcd810","#f87838","#f07818"],
  ["#ff7008","#e0e030","#e87030","#e07040","#e8a040","#c88828","#e0a830","#d83010","#f08020","#f0b030","#f8a030","#fc6c0c","#c80c38","#e86030","#e86808","#e87c20"],
  ["#f00838","#f01838","#e8d020","#e08030","#d81830","#e04010","#f0a040","#f85830","#f01010","#f0d820"],
  ["#e45c28","#e09010","#d09010","#f0a020","#d8a818","#f01010","#e8c030","#fcb430","#e0c030"],
  ["#d41818","#e0d020","#e08048","#f8a010","#d05028","#fc0808","#f82040"],
  ["#f46430","#e07808","#d8a820","#f0d020","#e83820"],
  ["#e0a408","#d8a010","#c82840"],
  ["#f47830","#e0c030","#f00818"],
  ["#f6b812","#e0d010"],
  ["#ec2414","#f81020"],
  ["#c8103a","#d84040","#d43010"],
  ["#e81048","#e89020","#f81020"],
  ["#f81018","#e8c020","#c84030","#e0d818"],
  ["#f0b820","#f01838","#f06840","#ff6020"],
  ["#d06840","#e87020"],
  ["#d8d820","#f04c00"],
  ["#f88030","#e81000"],
  ["#f88c3c"],
  ["#e84818"],
  ["#d0b820"],
  ["#e0a808"],
  ["#d06840"],
  ["#f09020"],
  ["#f0d040"],
  ["#e83030"],
];

export default function App() {
  const svgRef = useRef<SVGSVGElement>(null);

  const width = 1200;
  const height = 1042;

  useEffect(() => {
    const svg = d3.select(svgRef.current);
    svg.selectAll("*").remove();

    const x = d3.scaleLinear().domain([0, totalSamples]).range([10, 1190]);
    const y = d3.scaleLinear().domain([0, 1]).range([993, 977]);

    // background
    const grad = svg.append("defs").append("linearGradient")
      .attr("id", "background")
      .attr("x1", "0%").attr("y1", "0%")
      .attr("x2", "0%").attr("y2", "100%");
    grad.append("stop").attr("offset", "5%").attr("stop-color", "#eeeeee");
    grad.append("stop").attr("offset", "95%").attr("stop-color", "#eeeeb0");
    svg.append("rect")
      .attr("width", width)
      .attr("height", height)
      .attr("fill", "url(#background)");

    svg.append("text")
      .attr("x", width / 2)
      .attr("y", 24)
      .attr("text-anchor", "middle")
      .attr("font-size", 17)
      .attr("fill", "#000")
      .attr("fill-opacity", 0.85)
      .text(chartTitle);

    svg.append("text")
      .attr("x", 1090)
      .attr("y", 24)
      .attr("font-size", 12)
      .attr("fill", "#dcdcdc")
      .text(searchLabel);

    const frames = stackFrames.flatMap((row, depth) =>
      row.map((f, i) => ({
        depth,
        start: f[0],
        end: f[1],
        name: f[2],
        fill: stackFills[depth][i]
      }))
    );

    const g = svg.selectAll("g.frame")
      .data(frames)
      .enter()
      .append("g")
      .attr("class", "frame");

    g.append("rect")
      .attr("x", d => x(d.start))
      .attr("y", d => y(d.depth))
      .attr("width", d => x(d.end) - x(d.start))
      .attr("height", 15)
      .attr("rx", 2)
      .attr("ry", 2)
      .attr("fill", d => d.fill);

    g.filter(d => !!d.name)
      .append("text")
      .attr("x", d => x(d.start) + 3)
      .attr("y", d => y(d.depth) + 11)
      .attr("font-size", 12)
      .attr("letter-spacing", 0.16)
      .attr("fill", "#000")
      .attr("fill-opacity", 0.82)
      .text(d => d.name as string);
  }, []);

  return (
    <svg
      ref={svgRef}
      width={width}
      height={height}
      fontFamily="'DejaVu Sans', Verdana, sans-serif"
      style={{ position: "absolute", left: 0, top: 0 }}
    />
  );
}
